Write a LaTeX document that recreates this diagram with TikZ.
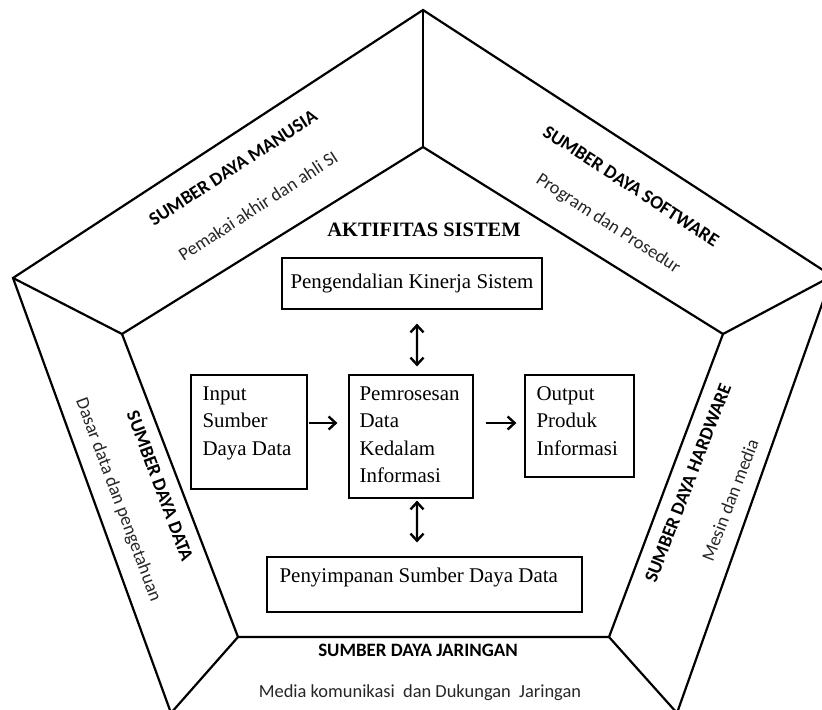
\documentclass[tikz,border=0pt]{standalone}
\usepackage{fontspec}
\setmainfont{Liberation Serif}
\newfontfamily\calibri{Carlito}
\usetikzlibrary{arrows.meta}
\tikzset{
  baseline = (current bounding box.center),
}

\begin{document}
\begin{tikzpicture}[
    x=1bp, y=-1bp,
    edge/.style={line width=2.2bp, line join=miter},
    box/.style={draw, line width=1.2bp, inner sep=0pt},
    boxtext/.style={inner sep=0pt, anchor=north west, align=left, font=\fontsize{21}{27.5}\selectfont},
    title/.style={font=\calibri\bfseries\fontsize{19}{21}\selectfont},
    sub/.style={font=\calibri\fontsize{18.5}{20}\selectfont, text=black!85},
    trans/.style={line width=2.4bp,{Straight Barb[length=7bp,width=13bp]}-{Straight Barb[length=7bp,width=13bp]}},
    flow/.style={line width=2.4bp,-{Straight Barb[length=7bp,width=13bp]}}
    ]
    \useasboundingbox (0,0) rectangle (822,710);
    % outer pentagon
    \coordinate (o1) at (423,10);
    \coordinate (o2) at (832,276);
    \coordinate (o3) at (677,713);
    \coordinate (o4) at (171,713);
    \coordinate (o5) at (13,278);
    % inner pentagon
    \coordinate (i1) at (423,147);
    \coordinate (i2) at (723,334);
    \coordinate (i3) at (609,637);
    \coordinate (i4) at (238,637);
    \coordinate (i5) at (122,334);
    \draw[edge] (o4) -- (o5) -- (o1) -- (o2) -- (o3);
    \draw[edge] (i1) -- (i2) -- (i3) -- (i4) -- (i5) -- cycle;
    \foreach \k in {1,...,5}
      \draw[edge] (o\k) -- (i\k);

    % resource labels
    \node[title, rotate=33] (manusia) at (233,168) {SUMBER DAYA MANUSIA};
    \node[sub, rotate=33] (manusiasub) at (258,206) {Pemakai akhir dan ahli SI};
    \node[title, rotate=-33] (software) at (631,186) {SUMBER DAYA SOFTWARE};
    \node[sub, rotate=-33] (softwaresub) at (608,224) {Program dan Prosedur};
    \node[title, rotate=-69.5] (data) at (160,486) {SUMBER DAYA DATA};
    \node[sub, rotate=-69.5] (datasub) at (118,500) {Dasar data dan pengetahuan};
    \node[title, rotate=69] (hardware) at (688,483) {SUMBER DAYA HARDWARE};
    \node[sub, rotate=69] (hardwaresub) at (730,500) {Mesin dan media};
    \node[title] (jaringan) at (418,650) {SUMBER DAYA JARINGAN};
    \node[sub] (jaringansub) at (420,693) {Media komunikasi\ \ dan Dukungan\ \ Jaringan};

    % system activities
    \node[font=\bfseries\fontsize{20.5}{22}\selectfont] (aktif) at (424,230) {AKTIFITAS SISTEM};
    \node[box, minimum width=260bp, minimum height=51bp, font=\fontsize{21}{24}\selectfont] (kendali) at (412,283.5) {Pengendalian Kinerja Sistem};
    \node[box, minimum width=116bp, minimum height=114bp] (input) at (249,432) {};
    \node[box, minimum width=124bp, minimum height=123bp] (proses) at (411,436.5) {};
    \node[box, minimum width=109bp, minimum height=102bp] (output) at (579.5,426) {};
    \node[box, minimum width=315bp, minimum height=55bp] (simpan) at (424.5,584.5) {};
    \node[boxtext] (inputtext) at ([shift={(12bp,-12bp)}]input.north west) {Input\\Sumber\\Daya Data};
    \node[boxtext] (prosestext) at ([shift={(11bp,-12bp)}]proses.north west) {Pemrosesan\\Data\\Kedalam\\Informasi};
    \node[boxtext] (outputtext) at ([shift={(12bp,-12bp)}]output.north west) {Output\\Produk\\Informasi};
    \node[boxtext] (simpantext) at ([shift={(13bp,-11bp)}]simpan.north west) {Penyimpanan Sumber Daya Data};

    \draw[trans, shorten <=14bp, shorten >=8bp] ([xshift=5bp]kendali.south) -- ([xshift=6bp]proses.north);
    \draw[trans, shorten <=2bp, shorten >=14bp] ([xshift=6bp]proses.south) -- ([xshift=-7.5bp]simpan.north);
    \draw[flow, shorten <=1bp, shorten >=11bp] ([yshift=9bp]input.east) -- ([yshift=9bp]input.east -| proses.west);
    \draw[flow, shorten <=12bp, shorten >=8bp] ([yshift=13.5bp]proses.east) -- ([yshift=13.5bp]proses.east -| output.west);
  \end{tikzpicture}
\end{document}
